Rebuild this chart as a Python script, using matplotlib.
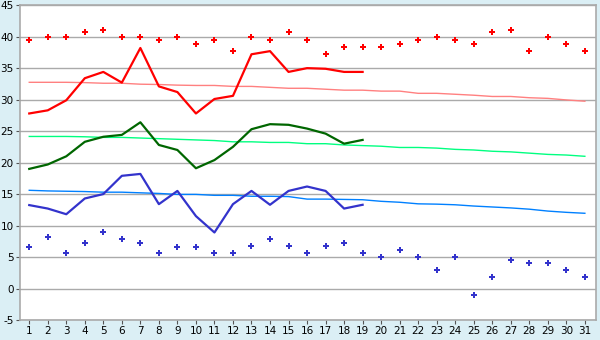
import matplotlib
matplotlib.use("Agg")
import matplotlib.pyplot as plt
import numpy as np

plt.rcParams["axes.unicode_minus"] = False

# dni miesiaca
days = np.arange(1, 32)
days_obs = np.arange(1, 20)

# rekordy maksymalne / minimalne (punkty)
rec_max = [39.4, 40.0, 40.0, 40.7, 41.1, 40.0, 40.0, 39.4, 40.0, 38.9,
           39.4, 37.8, 40.0, 39.4, 40.7, 39.4, 37.2, 38.3, 38.3, 38.3,
           38.9, 39.4, 40.0, 39.4, 38.9, 40.7, 41.1, 37.8, 40.0, 38.9, 37.8]
rec_min = [6.6, 8.2, 5.6, 7.2, 8.9, 7.8, 7.2, 5.6, 6.6, 6.6,
           5.6, 5.6, 6.7, 7.8, 6.7, 5.6, 6.7, 7.2, 5.6, 5.0,
           6.1, 5.0, 2.9, 5.0, -1.1, 1.8, 4.5, 4.0, 4.0, 2.9, 1.8]

# pomiary (dni 1-19)
t_max = [27.8, 28.3, 29.9, 33.4, 34.4, 32.7, 38.2, 32.1, 31.2, 27.8,
         30.1, 30.6, 37.2, 37.7, 34.4, 35.0, 34.9, 34.4, 34.4]
t_avg = [19.0, 19.7, 21.0, 23.3, 24.1, 24.4, 26.4, 22.8, 22.0, 19.1,
         20.4, 22.5, 25.3, 26.1, 26.0, 25.4, 24.6, 23.0, 23.6]
t_min = [13.25, 12.7, 11.8, 14.3, 15.0, 17.9, 18.2, 13.4, 15.5, 11.5,
         8.9, 13.4, 15.5, 13.3, 15.5, 16.2, 15.5, 12.7, 13.3]

# normy
norm_max = [32.75, 32.75, 32.75, 32.7, 32.6, 32.6, 32.45, 32.4, 32.3, 32.25,
            32.25, 32.1, 32.1, 31.95, 31.8, 31.8, 31.65, 31.5, 31.5, 31.35,
            31.35, 31.0, 31.0, 30.85, 30.7, 30.5, 30.5, 30.3, 30.2, 29.95, 29.75]
norm_avg = [24.15, 24.15, 24.15, 24.1, 24.0, 24.0, 23.9, 23.8, 23.7, 23.6,
            23.5, 23.3, 23.3, 23.2, 23.2, 23.0, 23.0, 22.8, 22.7, 22.6,
            22.4, 22.4, 22.3, 22.1, 22.0, 21.8, 21.7, 21.5, 21.3, 21.2, 21.0]
norm_min = [15.6, 15.5, 15.45, 15.4, 15.3, 15.3, 15.2, 15.1, 14.95, 14.95,
            14.8, 14.8, 14.65, 14.65, 14.6, 14.2, 14.2, 14.15, 14.1, 13.85,
            13.7, 13.45, 13.4, 13.3, 13.1, 12.95, 12.8, 12.6, 12.3, 12.1, 11.95]

fig = plt.figure(figsize=(6, 3.4), dpi=100, facecolor="#dbeff5")
ax = fig.add_axes([0.0333, 0.0588, 0.96, 0.926])
ax.set_facecolor("white")

ax.plot(days, norm_max, color="#ff8080", lw=1.0)
ax.plot(days, norm_avg, color="#00ff80", lw=1.0)
ax.plot(days, norm_min, color="#0080ff", lw=1.0)

ax.plot(days_obs, t_max, color="#ff0000", lw=1.6)
ax.plot(days_obs, t_avg, color="#006600", lw=1.6)
ax.plot(days_obs, t_min, color="#3333cc", lw=1.6)

ax.plot(days, rec_max, "P", color="#ff0000", ms=4.2, mew=0)
ax.plot(days, rec_min, "P", color="#3333cc", ms=4.2, mew=0)

ax.set_xlim(0.5, 31.6)
ax.set_ylim(-5, 45)
ax.set_xticks(days)
ax.set_yticks(np.arange(-5, 50, 5))
ax.yaxis.grid(True, color="#aaaaaa", lw=1)
ax.set_axisbelow(True)
ax.tick_params(labelsize=7.5, length=3, color="#555555", pad=1.5)
for s in ax.spines.values():
    s.set_color("#aaaaaa")
    s.set_linewidth(1.2)

plt.savefig("out.png", dpi=100, facecolor=fig.get_facecolor())
